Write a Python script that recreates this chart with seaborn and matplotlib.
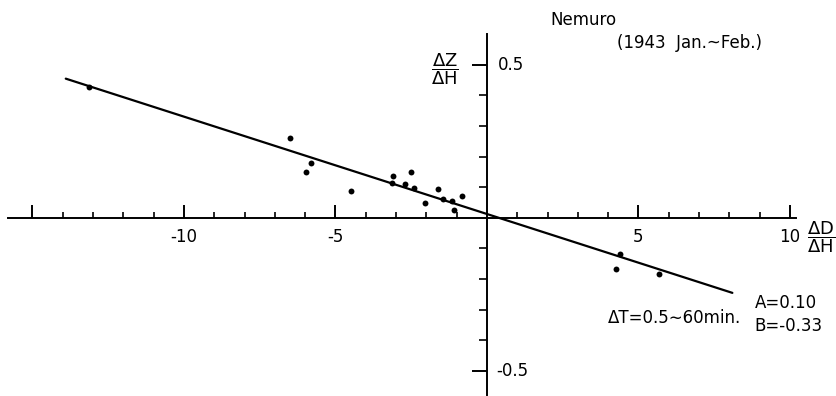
import numpy as np
import pandas as pd
import matplotlib
matplotlib.use("Agg")
import matplotlib.pyplot as plt
import seaborn as sns

# observed ratios dD/dH and dZ/dH (Nemuro, 1943 Jan.-Feb.)
dD_dH = [-13.13, -6.50, -5.97, -5.79, -4.50, -3.14, -3.09, -2.70, -2.50, -2.42,
         -2.05, -1.63, -1.45, -1.16, -1.10, -0.82, 4.39, 4.26, 5.68]
dZ_dH = [0.428, 0.262, 0.151, 0.179, 0.087, 0.115, 0.137, 0.111, 0.149, 0.099,
         0.049, 0.094, 0.063, 0.054, 0.027, 0.070, -0.117, -0.168, -0.183]

# fitted line end points
fit_x = [-13.9, 8.1]
fit_y = [0.455, -0.245]

x_major = [-15, -10, -5, 5, 10]
x_major_labels = ["", "-10", "-5", "5", "10"]
x_minor = [v for v in range(-15, 11) if v % 5 != 0]
y_major = [-0.5, 0.5]
y_minor = [-0.4, -0.3, -0.2, -0.1, 0.1, 0.2, 0.3, 0.4]

sns.set_style("white")
plt.rcParams["font.family"] = ["DejaVu Sans"]
plt.rcParams["mathtext.fontset"] = "dejavusans"
plt.rcParams["text.color"] = "black"

df = pd.DataFrame({"dD": dD_dH, "dZ": dZ_dH})
fit = pd.DataFrame({"x": fit_x, "y": fit_y})

fig = plt.figure(figsize=(8.36, 3.96), dpi=100)
ax = fig.add_axes([0, 0, 1, 1])

sns.lineplot(data=fit, x="x", y="y", ax=ax, color="black", linewidth=1.6)
sns.scatterplot(data=df, x="dD", y="dZ", ax=ax, color="black", s=18,
                edgecolor="black", linewidth=0, zorder=3)

ax.set_xlim(-16.07, 11.52)
ax.set_ylim(-0.582, 0.712)
ax.set_xlabel("")
ax.set_ylabel("")

# axes crossing at the origin
for side in ["top", "right"]:
    ax.spines[side].set_visible(False)
ax.spines["left"].set_position(("data", 0))
ax.spines["bottom"].set_position(("data", 0))
ax.spines["left"].set_bounds(-0.58, 0.6)
ax.spines["bottom"].set_bounds(-15.8, 10.2)
for side in ["left", "bottom"]:
    ax.spines[side].set_linewidth(1.4)
    ax.spines[side].set_color("black")

ax.set_xticks(x_major)
ax.set_xticklabels(x_major_labels)
ax.set_xticks(x_minor, minor=True)
ax.set_yticks(y_major)
ax.set_yticklabels([])
ax.set_yticks(y_minor, minor=True)

ax.tick_params(axis="x", which="both", bottom=True, top=False)
ax.tick_params(axis="y", which="both", left=True, right=False)
ax.tick_params(axis="x", which="major", direction="in", length=9.5, width=1.4,
               pad=7, labelsize=12, colors="black")
ax.tick_params(axis="x", which="minor", direction="in", length=4, width=1.2,
               colors="black")
ax.tick_params(axis="y", which="major", direction="out", length=11, width=1.4,
               colors="black")
ax.tick_params(axis="y", which="minor", direction="out", length=6, width=1.2,
               colors="black")

# y tick labels sit right of the axis
ax.text(0.36, 0.5, "0.5", fontsize=12, ha="left", va="center")
ax.text(0.30, -0.5, "-0.5", fontsize=12, ha="left", va="center")

# axis labels as fractions
ax.text(-1.39, 0.487, r"$\dfrac{\mathrm{\Delta Z}}{\mathrm{\Delta H}}$",
        fontsize=13, ha="center", va="center")
ax.text(11.02, -0.062, r"$\dfrac{\mathrm{\Delta D}}{\mathrm{\Delta H}}$",
        fontsize=13, ha="center", va="center")

ax.text(2.08, 0.647, "Nemuro", fontsize=12, ha="left", va="center")
ax.text(4.29, 0.572, "(1943  Jan.~Feb.)", fontsize=12, ha="left", va="center")
ax.text(3.99, -0.327, "ΔT=0.5∼60min.", fontsize=12, ha="left", va="center")
ax.text(8.84, -0.278, "A=0.10", fontsize=12, ha="left", va="center")
ax.text(8.84, -0.353, "B=-0.33", fontsize=12, ha="left", va="center")

fig.savefig("out.png", dpi=100)
